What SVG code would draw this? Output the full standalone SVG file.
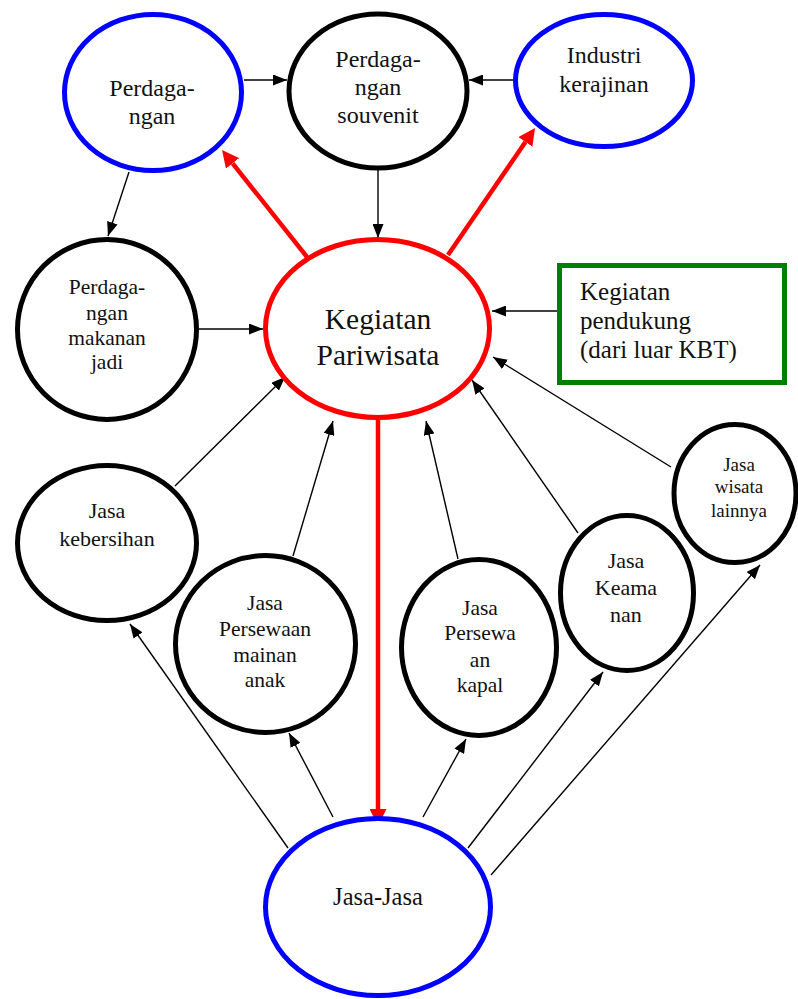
<svg xmlns="http://www.w3.org/2000/svg" width="798" height="999" viewBox="0 0 798 999">
<defs>
<marker id="ah" markerUnits="userSpaceOnUse" markerWidth="14" markerHeight="11" refX="14" refY="5.5" orient="auto"><path d="M0,0 L14,5.5 L0,11 z" fill="#000"/></marker>
<marker id="rh" markerUnits="userSpaceOnUse" markerWidth="17" markerHeight="17" refX="0" refY="8.5" orient="auto"><path d="M0,0 L17,8.5 L0,17 z" fill="#FF0000"/></marker>
</defs>
<rect width="798" height="999" fill="#fff"/>
<g id="connectors" fill="none">
<g stroke="#000" stroke-width="1.4" marker-end="url(#ah)">
<line x1="244" y1="80" x2="287" y2="80"/>
<line x1="513" y1="80" x2="469" y2="80"/>
<line x1="129" y1="172" x2="108" y2="236"/>
<line x1="378" y1="169" x2="378" y2="238"/>
<line x1="199" y1="329" x2="263" y2="329"/>
<line x1="557" y1="311" x2="492" y2="311"/>
<line x1="175" y1="486" x2="285" y2="377"/>
<line x1="293" y1="556" x2="333" y2="421"/>
<line x1="458" y1="559" x2="426" y2="421"/>
<line x1="578" y1="533" x2="472" y2="380"/>
<line x1="671" y1="467" x2="493" y2="357"/>
<line x1="288" y1="848" x2="130" y2="624"/>
<line x1="333" y1="817" x2="289" y2="733"/>
<line x1="423" y1="817" x2="466" y2="739"/>
<line x1="468" y1="848" x2="603" y2="672"/>
<line x1="491" y1="875" x2="760" y2="565"/>
</g>
<g stroke="#FF0000" stroke-width="4.5" marker-end="url(#rh)">
<line x1="307" y1="257" x2="232.6" y2="163.3"/>
<line x1="448" y1="255" x2="525.4" y2="142"/>
<line x1="378" y1="420" x2="378" y2="809"/>
</g>
</g>
<g fill="#fff" stroke-width="5">
<g id="perdagangan">
<ellipse stroke="#0000FF" cx="153" cy="92.5" rx="88.5" ry="78"/>
<text x="152" y="96" font-family="Liberation Serif" font-size="24" fill="#111" stroke="none" text-anchor="middle">Perdaga-</text>
<text x="152" y="124" font-family="Liberation Serif" font-size="24" fill="#111" stroke="none" text-anchor="middle">ngan</text>
</g>
<g id="souvenit">
<ellipse stroke="#000" cx="378" cy="91" rx="89" ry="77"/>
<text x="378" y="67" font-family="Liberation Serif" font-size="24" fill="#111" stroke="none" text-anchor="middle">Perdaga-</text>
<text x="378" y="95" font-family="Liberation Serif" font-size="24" fill="#111" stroke="none" text-anchor="middle">ngan</text>
<text x="378" y="123" font-family="Liberation Serif" font-size="24" fill="#111" stroke="none" text-anchor="middle">souvenit</text>
</g>
<g id="industri">
<ellipse stroke="#0000FF" cx="604" cy="80.5" rx="88.5" ry="66"/>
<text x="604" y="63" font-family="Liberation Serif" font-size="24" fill="#111" stroke="none" text-anchor="middle">Industri</text>
<text x="604" y="92" font-family="Liberation Serif" font-size="24" fill="#111" stroke="none" text-anchor="middle">kerajinan</text>
</g>
<g id="kegiatan">
<ellipse stroke="#FF0000" cx="377.5" cy="328.5" rx="112" ry="89"/>
<text x="378" y="329" font-family="Liberation Serif" font-size="29.5" fill="#111" stroke="none" text-anchor="middle">Kegiatan</text>
<text x="378" y="365" font-family="Liberation Serif" font-size="29.5" fill="#111" stroke="none" text-anchor="middle">Pariwisata</text>
</g>
<g id="makanan">
<ellipse stroke="#000" cx="107" cy="329.5" rx="89.5" ry="90"/>
<text x="107" y="294" font-family="Liberation Serif" font-size="21.5" fill="#111" stroke="none" text-anchor="middle">Perdaga-</text>
<text x="107" y="320" font-family="Liberation Serif" font-size="21.5" fill="#111" stroke="none" text-anchor="middle">ngan</text>
<text x="107" y="345" font-family="Liberation Serif" font-size="21.5" fill="#111" stroke="none" text-anchor="middle">makanan</text>
<text x="107" y="369" font-family="Liberation Serif" font-size="21.5" fill="#111" stroke="none" text-anchor="middle">jadi</text>
</g>
<g id="pendukung">
<rect x="559.5" y="265.5" width="225" height="117" stroke="#008000"/>
<text x="580" y="300" font-family="Liberation Serif" font-size="25" fill="#111" stroke="none">Kegiatan</text>
<text x="580" y="329" font-family="Liberation Serif" font-size="25" fill="#111" stroke="none">pendukung</text>
<text x="580" y="358" font-family="Liberation Serif" font-size="25" fill="#111" stroke="none">(dari luar KBT)</text>
</g>
<g id="kebersihan">
<ellipse stroke="#000" cx="107" cy="543" rx="89.5" ry="77.5"/>
<text x="107" y="518" font-family="Liberation Serif" font-size="22" fill="#111" stroke="none" text-anchor="middle">Jasa</text>
<text x="107" y="546" font-family="Liberation Serif" font-size="22" fill="#111" stroke="none" text-anchor="middle">kebersihan</text>
</g>
<g id="mainan">
<ellipse stroke="#000" cx="265.5" cy="644" rx="90" ry="88.5"/>
<text x="265" y="610" font-family="Liberation Serif" font-size="21.5" fill="#111" stroke="none" text-anchor="middle">Jasa</text>
<text x="265" y="636" font-family="Liberation Serif" font-size="21.5" fill="#111" stroke="none" text-anchor="middle">Persewaan</text>
<text x="265" y="662" font-family="Liberation Serif" font-size="21.5" fill="#111" stroke="none" text-anchor="middle">mainan</text>
<text x="265" y="687" font-family="Liberation Serif" font-size="21.5" fill="#111" stroke="none" text-anchor="middle">anak</text>
</g>
<g id="kapal">
<ellipse stroke="#000" cx="479" cy="647.5" rx="77.5" ry="88"/>
<text x="480" y="615" font-family="Liberation Serif" font-size="21.5" fill="#111" stroke="none" text-anchor="middle">Jasa</text>
<text x="480" y="640" font-family="Liberation Serif" font-size="21.5" fill="#111" stroke="none" text-anchor="middle">Persewa</text>
<text x="480" y="667" font-family="Liberation Serif" font-size="21.5" fill="#111" stroke="none" text-anchor="middle">an</text>
<text x="480" y="692" font-family="Liberation Serif" font-size="21.5" fill="#111" stroke="none" text-anchor="middle">kapal</text>
</g>
<g id="keamanan">
<ellipse stroke="#000" cx="627" cy="593" rx="66.5" ry="77.5"/>
<text x="626" y="568" font-family="Liberation Serif" font-size="22" fill="#111" stroke="none" text-anchor="middle">Jasa</text>
<text x="626" y="595" font-family="Liberation Serif" font-size="22" fill="#111" stroke="none" text-anchor="middle">Keama</text>
<text x="626" y="622" font-family="Liberation Serif" font-size="22" fill="#111" stroke="none" text-anchor="middle">nan</text>
</g>
<g id="wisata">
<ellipse stroke="#000" cx="735" cy="493.5" rx="61" ry="69"/>
<text x="739" y="471" font-family="Liberation Serif" font-size="19" fill="#111" stroke="none" text-anchor="middle">Jasa</text>
<text x="739" y="493" font-family="Liberation Serif" font-size="19" fill="#111" stroke="none" text-anchor="middle">wisata</text>
<text x="739" y="517" font-family="Liberation Serif" font-size="19" fill="#111" stroke="none" text-anchor="middle">lainnya</text>
</g>
<g id="jasajasa">
<ellipse stroke="#0000FF" cx="378" cy="907" rx="112.5" ry="88.5"/>
<text x="378" y="905" font-family="Liberation Serif" font-size="24.5" fill="#111" stroke="none" text-anchor="middle">Jasa-Jasa</text>
</g>
</g>
</svg>
